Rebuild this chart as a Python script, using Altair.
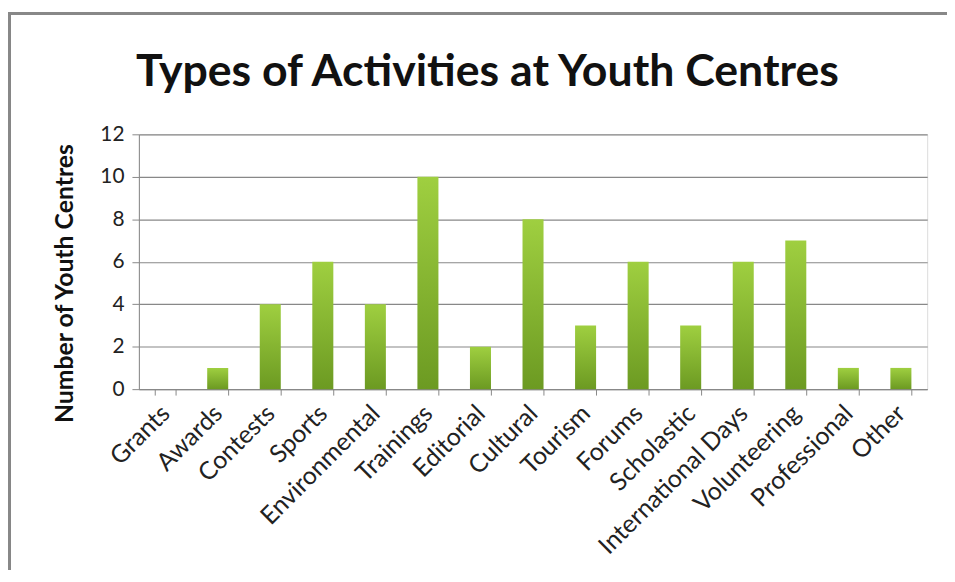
import altair as alt
import pandas as pd

categories = ["Grants", "Awards", "Contests", "Sports", "Environmental", "Trainings",
              "Editorial", "Cultural", "Tourism", "Forums", "Scholastic",
              "International Days", "Volunteering", "Professional", "Other"]
values = [0, 1, 4, 6, 4, 10, 2, 8, 3, 6, 3, 6, 7, 1, 1]

df = pd.DataFrame({"Activity": categories, "Count": values})

FONT = "Lato"
grad = alt.LinearGradient(
    gradient="linear", x1=0, y1=0, x2=0, y2=1,
    stops=[alt.GradientStop(color="#9fcf40", offset=0),
           alt.GradientStop(color="#6c9a22", offset=1)],
)

bars = alt.Chart(df).mark_bar(color=grad).encode(
    x=alt.X("Activity:N", sort=categories,
            scale=alt.Scale(paddingInner=0.6, paddingOuter=0.3),
            axis=alt.Axis(title=None, labelAngle=-45, labelAlign="right",
                          labelBaseline="middle", labelFont=FONT, labelFontSize=25,
                          labelColor="#222222", labelPadding=14, labelLimit=400,
                          tickBand="extent",
                          tickSize=6, tickColor="#888888", domainColor="#888888",
                          grid=False)),
    y=alt.Y("Count:Q", scale=alt.Scale(domain=[0, 12]),
            axis=alt.Axis(values=[0, 2, 4, 6, 8, 10, 12], title="Number of Youth Centres",
                          titleFont=FONT, titleFontSize=25, titleFontWeight="bold",
                          titleColor="#111111", titleX=-75, titleY=150, titleAngle=270,
                          titleAlign="center", titleBaseline="middle",
                          labelFont=FONT, labelFontSize=21, labelColor="#222222",
                          labelPadding=8, tickSize=7, tickColor="#888888",
                          domainColor="#888888", gridColor="#888888", gridWidth=1.2)),
)

border_left = alt.Chart(df).mark_rule(color="#888888", strokeWidth=2.5).encode(
    x=alt.value(-131), y=alt.value(-122), y2=alt.value(460))
border_top = alt.Chart(df).mark_rule(color="#888888", strokeWidth=2.5).encode(
    x=alt.value(-132), x2=alt.value(830), y=alt.value(-122))

chart = alt.layer(bars, border_left, border_top).properties(
    width=795, height=257,
    title=alt.TitleParams("Types of Activities at Youth Centres", font=FONT, fontSize=45,
                          fontWeight="bold", color="#111111", anchor="start",
                          frame="group", dx=-3, offset=-84),
    autosize=alt.AutoSizeParams(type="none"),
    padding={"left": 132, "top": 125, "right": 20, "bottom": 180},
).configure_view(stroke=None).configure(background="white")

chart.save("out.html", embed_options={"renderer": "svg", "actions": False})
